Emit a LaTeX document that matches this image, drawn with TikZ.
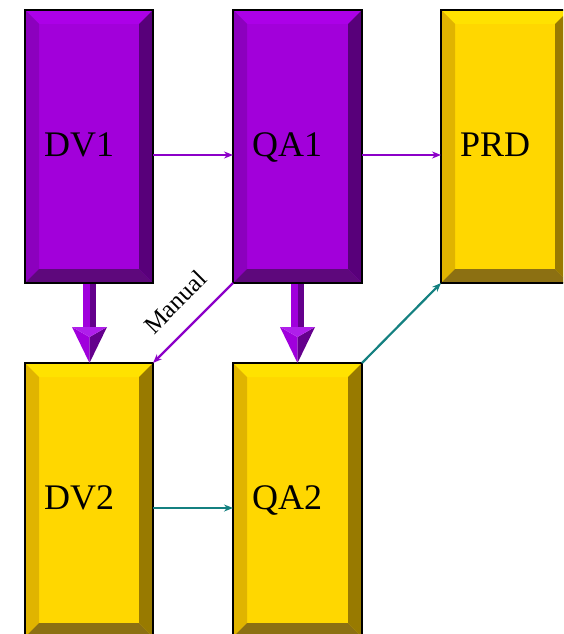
\documentclass[tikz,border=0pt]{standalone}
\usepackage{fontspec}
\setmainfont{Liberation Serif}
\usetikzlibrary{arrows.meta}
\definecolor{pface}{RGB}{162,0,218}
\definecolor{ptop}{RGB}{172,0,232}
\definecolor{pleft}{RGB}{140,0,190}
\definecolor{pright}{RGB}{88,0,122}
\definecolor{pbottom}{RGB}{94,8,124}
\definecolor{yface}{RGB}{255,215,0}
\definecolor{ytop}{RGB}{255,226,0}
\definecolor{yleft}{RGB}{224,180,0}
\definecolor{yright}{RGB}{152,122,0}
\definecolor{ybottom}{RGB}{140,112,18}
\definecolor{pline}{RGB}{140,0,200}
\definecolor{tline}{RGB}{20,128,128}
\definecolor{fatlight}{RGB}{160,0,220}
\definecolor{fatdark}{RGB}{100,0,140}
\definecolor{fattop}{RGB}{175,30,235}
\newcommand\bevbox[7]{%
  \node[boxnode, minimum width={#4-#2}, minimum height={#5-#3}] (#1) at ({(#2+#4)/2},{(#3+#5)/2}) {};
  \fill[#6face] (#1.north west) rectangle (#1.south east);
  \fill[#6top] (#1.north west) -- (#1.north east) -- ([xshift=-14pt,yshift=-14pt]#1.north east) -- ([xshift=14pt,yshift=-14pt]#1.north west) -- cycle;
  \fill[#6left] (#1.north west) -- (#1.south west) -- ([xshift=14pt,yshift=14pt]#1.south west) -- ([xshift=14pt,yshift=-14pt]#1.north west) -- cycle;
  \fill[#6right] (#1.north east) -- (#1.south east) -- ([xshift=-14pt,yshift=14pt]#1.south east) -- ([xshift=-14pt,yshift=-14pt]#1.north east) -- cycle;
  \fill[#6bottom] (#1.south west) -- (#1.south east) -- ([xshift=-14pt,yshift=14pt]#1.south east) -- ([xshift=14pt,yshift=14pt]#1.south west) -- cycle;
  \draw[boxborder] (#1.north west) rectangle (#1.south east);
  \node[boxlabel, anchor=base west] at (#2+19,#3+146) {#7};
}
\newcommand\fatarrow[3]{%
  \fill[fatlight] (#1-6.5,#2) rectangle (#1,#3-36);
  \fill[fatdark] (#1,#2) rectangle (#1+6.5,#3-36);
  \fill[fatlight] (#1-17.5,#3-36) -- (#1,#3-26) -- (#1,#3) -- cycle;
  \fill[fatdark] (#1+17.5,#3-36) -- (#1,#3-26) -- (#1,#3) -- cycle;
  \fill[fattop] (#1-17.5,#3-36) -- (#1+17.5,#3-36) -- (#1,#3-26) -- cycle;
}
\begin{document}
\begin{tikzpicture}[x=1pt,y=-1pt,
  boxnode/.style={rectangle, inner sep=0pt, outer sep=0pt, draw=none},
  boxborder/.style={draw=black, line width=1.8pt},
  boxlabel/.style={font=\fontsize{36}{40}\selectfont, inner sep=0pt, text=black},
  thinp/.style={draw=pline, line width=2.2pt, -{Stealth[length=9pt,width=7pt]}},
  thint/.style={draw=tline, line width=2.2pt, -{Stealth[length=9pt,width=7pt]}},
  mlabel/.style={font=\fontsize{25}{28}\selectfont, rotate=45, inner sep=0pt}]
\useasboundingbox (0,0) rectangle (563,634);
\clip (0,0) rectangle (563,634);
\bevbox{DV1}{25}{10}{153}{283}{p}{DV1}
\bevbox{QA1}{233}{10}{362}{283}{p}{QA1}
\bevbox{PRD}{441}{10}{569}{283}{y}{PRD}
\bevbox{DV2}{25}{363}{153}{637}{y}{DV2}
\bevbox{QA2}{233}{363}{362}{637}{y}{QA2}
\fatarrow{89.5}{284}{363}
\fatarrow{297.5}{284}{363}
\draw[thinp] ([yshift=-8.5pt]DV1.east) -- ([yshift=-8.5pt]QA1.west);
\draw[thinp] ([yshift=-8.5pt]QA1.east) -- ([yshift=-8.5pt]PRD.west);
\draw[thint] ([yshift=-8pt]DV2.east) -- ([yshift=-8pt]QA2.west);
\draw[thint] (QA2.north east) -- (PRD.south west);
\draw[thinp] (QA1.south west) -- (DV2.north east);
\node[mlabel] (man) at (175,302) {Manual};
\end{tikzpicture}
\end{document}
